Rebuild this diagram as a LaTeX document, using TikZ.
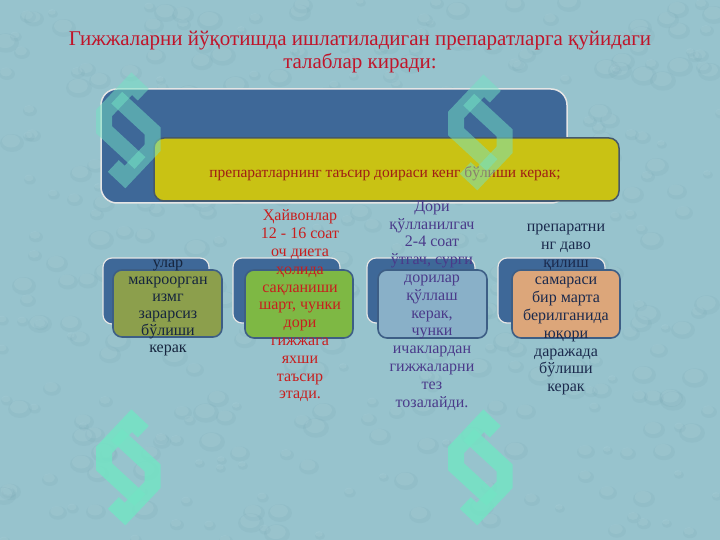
\documentclass[tikz,border=0pt]{standalone}
\usepackage{fontspec}
\setmainfont{Liberation Serif}
\definecolor{bgc}{HTML}{97C3CD}
\definecolor{dropl}{HTML}{C4E2E8}
\definecolor{dropd}{HTML}{6F9EAC}
\definecolor{boxblue}{HTML}{3E6898}
\definecolor{boxyellow}{HTML}{C9C214}
\definecolor{yedge}{HTML}{46586A}
\definecolor{fedge}{HTML}{3D5E85}
\definecolor{fgreenA}{HTML}{8C9F4C}
\definecolor{fgreenB}{HTML}{7EB844}
\definecolor{fblue}{HTML}{89B0C8}
\definecolor{fpeach}{HTML}{DCA67A}
\definecolor{titlered}{HTML}{C0142A}
\definecolor{yred}{HTML}{A01E14}
\definecolor{tnavy}{HTML}{16253E}
\definecolor{tred}{HTML}{C81E1E}
\definecolor{tpurple}{HTML}{4A3A8A}
\definecolor{tnavyb}{HTML}{1B2A4D}
\definecolor{symc}{HTML}{74E3C4}
\tikzset{
  bluebox/.style={fill=boxblue, draw=white!80!gray, line width=1.5pt, rounded corners=16pt},
  yellowbox/.style={fill=boxyellow, draw=yedge, line width=1.5pt, rounded corners=10pt},
  backbox/.style={fill=boxblue, draw=white!80!gray, line width=1.2pt, rounded corners=9pt},
  frontbox/.style={draw=fedge, line width=1.6pt, rounded corners=9pt},
  coltext/.style={align=center, font=\fontsize{16}{17.8}\selectfont},
  symband/.style={draw=symc, line width=16pt, line cap=butt, line join=miter},
}
\newcommand\secsym[3]{%
  \begin{scope}[shift={(#1,#2)}, opacity=#3]
    \draw[symband] (48.3,16.7) -- (36.7,5.7) -- (9,35) -- (9,51.7) -- (45,85);
    \draw[symband] (21.7,19.7) -- (57.7,53) -- (57.7,69.7) -- (30,99) -- (18.3,88);
  \end{scope}}
\begin{document}
\begin{tikzpicture}[x=1pt,y=-1pt]
\useasboundingbox (0,0) rectangle (720,540);
\fill[bgc] (0,0) rectangle (720,540);
% droplet texture
\pgfmathsetseed{7}
\foreach \i in {1,...,380}{
  \pgfmathsetmacro\xx{random(0,720)}
  \pgfmathsetmacro\yy{random(0,540)}
  \pgfmathsetmacro\rr{random(5,13)}
  \fill[dropd, opacity=0.12] (\xx+1,\yy+2) ellipse ({\rr pt} and {0.75*\rr pt});
  \fill[dropl, opacity=0.14] (\xx,\yy) ellipse ({0.75*\rr pt} and {0.55*\rr pt});
}
% title
\node[align=center, text=titlered, font=\fontsize{21}{23}\selectfont] (title) at (360,52.5)
  {Гижжаларни йўқотишда ишлатиладиган препаратларга қуйидаги\\талаблар киради:};
% top boxes
\draw[bluebox] (101,89) rectangle (567,203);
\draw[yellowbox] (154,138) rectangle (619,201);
\node[text=yred, font=\fontsize{15.5}{18}\selectfont] (main) at (385,174)
  {препаратларнинг таъсир доираси кенг бўлиши керак;};
% lower boxes
\draw[backbox] (103,258) rectangle (209,324);
\draw[frontbox, fill=fgreenA] (113,270) rectangle (222,337);
\draw[backbox] (233,258) rectangle (340,323);
\draw[frontbox, fill=fgreenB] (245,270) rectangle (353,338);
\draw[backbox] (367,258) rectangle (475,323);
\draw[frontbox, fill=fblue] (378,270) rectangle (487,338);
\draw[backbox] (498,258) rectangle (605,323);
\draw[frontbox, fill=fpeach] (512,270) rectangle (620,338);
% texts
\node[coltext, text=tnavy, font=\fontsize{16}{17}\selectfont] (c1) at (168,308)
  {улар\\макроорган\\измг\\зарарсиз\\бўлиши\\керак};
\node[coltext, text=tred] (c2) at (300,306)
  {Ҳайвонлар\\12 - 16 соат\\оч диета\\ҳолида\\сақланиши\\шарт, чунки\\дори\\гижжага\\яхши\\таъсир\\этади.};
\node[coltext, text=tpurple] (c3) at (432,305.5)
  {Дори\\қўлланилгач\\2-4 соат\\ўтгач, сурги\\дорилар\\қўллаш\\керак,\\чунки\\ичаклардан\\гижжаларни\\тез\\тозалайди.};
\node[coltext, text=tnavyb] (c4) at (566,309.5)
  {препаратни\\нг даво\\қилиш\\самараси\\бир марта\\берилганида\\юқори\\даражада\\бўлиши\\керак};
% section symbols
\secsym{95}{78}{0.5}
\secsym{447}{80}{0.5}
\secsym{95}{415}{0.85}
\secsym{447}{415}{0.85}
\end{tikzpicture}
\end{document}
